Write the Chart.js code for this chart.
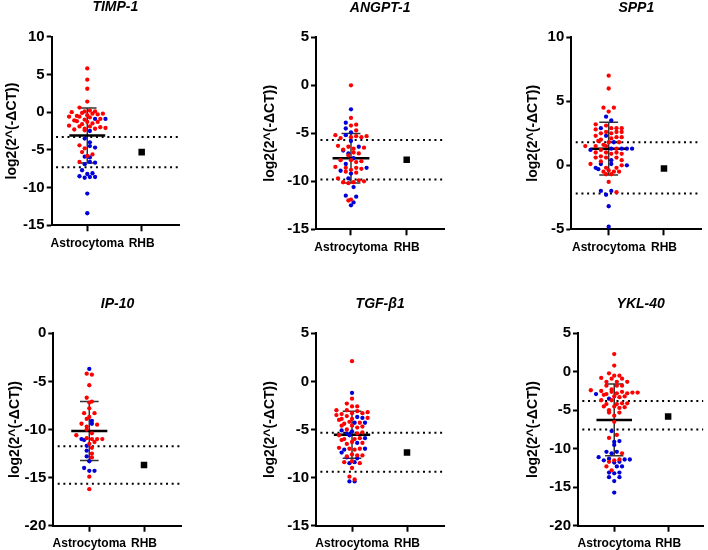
<!DOCTYPE html>
<html><head><meta charset="utf-8">
<script src="https://cdn.jsdelivr.net/npm/chart.js@4/dist/chart.umd.min.js"></script>
<style>
html,body{margin:0;padding:0;background:#fff;}
#wrap{position:relative;width:708px;height:550px;overflow:hidden;background:#fff;}
canvas{position:absolute;}
</style></head><body><div id="wrap"></div>
<script>
// ---------- DATA ----------
const genes = ['TIMP-1', 'ANGPT-1', 'SPP1', 'IP-10', 'TGF-β1', 'YKL-40'];
const categories = ['Astrocytoma', 'RHB'];
const yAxisTitle = 'log2(2^(-ΔCT))';

const timp1Red = [5.8, 4.3, 3.1, 1.4, 0.6, 0.2, 0.1, 0.1, 0.0, -0.1, -0.2, -0.2, -0.3, -0.4, -0.5, -0.6, -0.6, -0.7, -0.9, -1.0, -1.1, -1.2, -1.3, -1.3, -1.5, -1.6, -1.8, -1.9, -1.9, -2.0, -2.1, -2.2, -2.2, -2.3, -2.4, -4.4, -4.8, -5.3, -5.6, -5.8, -6.6];
const timp1Blue = [-0.9, -0.9, -2.5, -3.5, -4.0, -4.5, -4.7, -5.9, -6.0, -6.6, -6.7, -6.9, -7.7, -8.1, -8.2, -8.5, -8.6, -8.6, -8.7, -10.8, -13.4];

const angpt1Red = [0.0, -3.4, -4.1, -4.2, -4.7, -5.2, -5.3, -5.3, -5.4, -5.4, -5.5, -6.3, -6.4, -6.5, -6.6, -6.7, -7.0, -7.1, -7.3, -7.8, -7.8, -7.9, -8.0, -8.5, -8.6, -8.6, -8.7, -8.8, -9.0, -9.1, -9.7, -9.9, -10.0, -10.1, -10.1, -10.2, -11.9, -12.0];
const angpt1Blue = [-2.5, -3.9, -4.5, -4.9, -5.2, -5.8, -6.4, -6.8, -7.1, -7.6, -8.2, -8.6, -8.9, -9.2, -9.7, -10.6, -11.5, -11.6, -12.2, -12.5];

const spp1Red = [7.0, 6.0, 4.5, 4.5, 4.2, 3.2, 3.1, 2.9, 2.9, 2.9, 2.8, 2.6, 2.6, 2.5, 2.6, 2.5, 2.3, 2.2, 2.2, 2.1, 2.0, 1.9, 1.8, 1.8, 1.6, 1.5, 1.5, 1.5, 1.2, 1.3, 1.0, 1.0, 0.9, 0.9, 1.0, 0.6, 0.6, 0.7, 0.6, 0.4, 0.3, 0.0, 0.1, -0.2, -0.2, -0.5, -0.5, -0.4, -0.5, -0.7, -0.7, -1.3, -2.1];
const spp1Blue = [3.8, 3.5, 2.9, 2.3, 1.8, 1.3, 1.3, 1.3, 1.2, 1.3, 0.4, 0.1, 0.0, 0.1, -0.2, -0.3, -2.0, -2.0, -2.3, -3.2, -4.8];

const ip10Red = [-4.2, -4.3, -5.4, -6.7, -7.1, -7.2, -7.8, -8.3, -8.3, -8.7, -8.9, -9.5, -9.4, -9.7, -10.0, -10.4, -11.0, -11.0, -11.0, -10.6, -10.9, -11.3, -11.5, -11.9, -12.5, -12.9, -14.9, -16.2];
const ip10Blue = [-3.7, -9.1, -9.4, -11.0, -11.1, -11.7, -12.2, -12.8, -13.3, -14.0, -14.3, -14.3];

const tgfb1Red = [2.1, -1.8, -2.3, -2.6, -2.6, -3.0, -3.0, -3.1, -3.2, -3.3, -3.3, -3.4, -3.5, -3.6, -3.8, -3.9, -3.9, -4.0, -4.2, -4.3, -4.4, -4.6, -4.6, -4.7, -4.8, -5.0, -5.3, -5.4, -5.6, -5.9, -6.0, -6.0, -6.1, -6.3, -6.4, -6.5, -6.9, -7.0, -7.0, -7.1, -7.6, -7.7, -7.7, -7.8, -8.3, -8.4, -8.5, -9.0, -9.9, -10.2];
const tgfb1Blue = [-1.2, -3.7, -3.8, -4.3, -4.3, -5.1, -5.2, -5.4, -5.6, -5.9, -6.4, -7.0, -7.1, -7.4, -7.9, -8.0, -8.4, -8.5, -10.4, -10.4];

const ykl40Red = [2.3, 0.8, -0.2, -0.5, -0.5, -0.8, -0.9, -0.9, -1.3, -1.3, -1.3, -1.8, -1.8, -1.8, -2.3, -2.4, -2.5, -2.6, -2.6, -2.7, -2.7, -2.8, -2.8, -2.9, -3.0, -3.2, -3.2, -3.3, -3.7, -3.7, -4.1, -4.1, -4.2, -4.2, -4.5, -4.5, -4.6, -4.7, -5.0, -5.3, -5.3, -5.7, -6.5, -8.2, -8.6, -10.6, -11.4, -11.5, -11.7, -12.3, -12.8];
const ykl40Blue = [-2.9, -3.5, -7.7, -9.0, -9.1, -9.5, -10.4, -10.4, -10.6, -11.1, -11.3, -11.4, -11.4, -11.5, -11.7, -11.8, -12.3, -12.3, -13.1, -13.1, -13.2, -13.7, -13.7, -14.2, -15.7];

const redSeries = [timp1Red, angpt1Red, spp1Red, ip10Red, tgfb1Red, ykl40Red];
const blueSeries = [timp1Blue, angpt1Blue, spp1Blue, ip10Blue, tgfb1Blue, ykl40Blue];

const meanValues = [-3.1, -7.6, 1.3, -10.15, -5.55, -6.25];
const sdValues = [3.65, 2.57, 2.06, 3.07, 2.44, 4.67];
const rhbValues = [-5.3, -7.75, -0.25, -13.7, -7.4, -5.8];
const cutoffUpper = [-3.3, -5.7, 1.8, -11.75, -5.35, -3.8];
const cutoffLower = [-7.3, -9.8, -2.2, -15.65, -9.4, -7.5];
const yMinValues = [-15, -15, -5, -20, -15, -20];
const yMaxValues = [10, 5, 10, 0, 5, 5];
const yStep = 5;

// ---------- LAYOUT (styling, not data) ----------
const FONT = '"Liberation Sans", Arial, Helvetica, sans-serif';
Chart.defaults.font.family = FONT;
Chart.defaults.color = '#000';
const W = 236, H = 275;
const panels = [
  {left: 0,   top: 0,   l: 51.7, t: 36.7, r: 179,   b: 225.3, xMin: 0.346, xMax: 2.686, yTitleX: 12.5},
  {left: 236, top: 0,   l: 80,   t: 37.3, r: 208.3, b: 229.3, xMin: 0.372, xMax: 2.675, yTitleX: 33.8},
  {left: 472, top: 0,   l: 99.3, t: 37.3, r: 229.3, b: 229.3, xMin: 0.324, xMax: 2.675, yTitleX: 60.8},
  {left: 0,   top: 275, l: 53.3, t: 58.3, r: 181.7, b: 250.7, xMin: 0.342, xMax: 2.689, yTitleX: 15},
  {left: 236, top: 275, l: 80,   t: 58.3, r: 208.3, b: 250.7, xMin: 0.345, xMax: 2.678, yTitleX: 33.8},
  {left: 472, top: 275, l: 106,  t: 58.3, r: 233,   b: 250.7, xMin: 0.328, xMax: 2.654, yTitleX: 60.8}
];
const RED = 'rgb(255,0,0)', BLUE = 'rgb(0,0,215)';
const PT_R = 2.15, ROW_H = 3.9, COL_W = 5.2;

const panelTitle = {
  id: 'panelTitle',
  afterDraw(chart, args, opts) {
    const {ctx, chartArea} = chart;
    ctx.save();
    ctx.font = 'italic bold 14px ' + FONT;
    ctx.fillStyle = '#000';
    ctx.textAlign = 'center';
    ctx.textBaseline = 'middle';
    ctx.fillText(opts.text, (chartArea.left + chartArea.right) / 2, chartArea.top - opts.offset);
    ctx.restore();
  }
};

// Row-based scatter layout (column scatter plot): points whose pixel
// heights fall in the same row are spread side by side around the category.
function swarm(vals, colors, chart) {
  const ys = chart.scales.y, xs = chart.scales.x;
  const pxPerX = xs.getPixelForValue(2) - xs.getPixelForValue(1);
  const items = vals.map((v, i) => ({v, c: colors[i], py: ys.getPixelForValue(v), px: 0}));
  const order = items.slice().sort((a, b) => a.py - b.py);
  let row = [];
  const flush = () => {
    const n = row.length;
    const mixed = [];
    let lo = 0, hi = n - 1, t = 0;
    while (lo <= hi) { mixed.push(t++ % 2 ? row[hi--] : row[lo++]); }
    mixed.forEach((it, k) => { it.px = (k - (n - 1) / 2) * COL_W; });
    row = [];
  };
  order.forEach(it => {
    if (row.length && it.py - row[0].py >= ROW_H) flush();
    row.push(it);
  });
  flush();
  items.forEach(it => { it.x = 1 + it.px / pxPerX; });
  return items;
}

const wrap = document.getElementById('wrap');
panels.forEach((p, i) => {
  const cv = document.createElement('canvas');
  cv.width = W; cv.height = H;
  cv.style.left = p.left + 'px'; cv.style.top = p.top + 'px';
  cv.style.width = W + 'px'; cv.style.height = H + 'px';
  wrap.appendChild(cv);
  const mean = meanValues[i], sd = sdValues[i];
  const line = (data, color, width, order, dash) => ({
    data, showLine: true, borderColor: color, borderWidth: width, pointRadius: 0,
    borderDash: dash || [], order, borderCapStyle: 'butt', fill: false
  });
  const chart = new Chart(cv, {
    type: 'scatter',
    data: {
      datasets: [
        {data: redSeries[i].map(v => ({x: 1, y: v})), pointRadius: PT_R, pointBackgroundColor: RED, pointBorderWidth: 0, borderColor: RED, order: 0},
        {data: blueSeries[i].map(v => ({x: 1, y: v})), pointRadius: PT_R, pointBackgroundColor: BLUE, pointBorderWidth: 0, borderColor: BLUE, order: 0},
        {data: [{x: 2, y: rhbValues[i]}], pointStyle: 'rect', pointRadius: 4.6, pointBackgroundColor: '#000', pointBorderWidth: 0, order: 0},
        line([{x: 1 - 0.33, y: mean}, {x: 1 + 0.33, y: mean}], '#000', 2.5, 1),
        line([{x: 1, y: mean + sd}, {x: 1, y: mean - sd}], '#333', 1.5, 1),
        line([{x: 1 - 0.17, y: mean + sd}, {x: 1 + 0.17, y: mean + sd}], '#333', 1.5, 1),
        line([{x: 1 - 0.17, y: mean - sd}, {x: 1 + 0.17, y: mean - sd}], '#333', 1.5, 1),
        line([{x: p.xMin + 0.08, y: cutoffUpper[i]}, {x: p.xMax, y: cutoffUpper[i]}], '#000', 2, 2, [2, 3.7]),
        line([{x: p.xMin + 0.08, y: cutoffLower[i]}, {x: p.xMax, y: cutoffLower[i]}], '#000', 2, 2, [2, 3.7])
      ]
    },
    options: {
      responsive: false, animation: false, devicePixelRatio: 1,
      layout: {padding: {left: 0, top: p.t, right: W - p.r, bottom: 0}},
      plugins: {legend: {display: false}, tooltip: {enabled: false}, panelTitle: {text: genes[i], offset: 29.5}},
      scales: {
        x: {
          type: 'linear', min: p.xMin, max: p.xMax,
          afterBuildTicks: s => { s.ticks = [{value: 1}, {value: 2}]; },
          afterFit: s => { s.height = H - p.b; },
          ticks: {callback: (v, idx) => categories[idx], font: {size: 12, weight: 'bold'}, color: '#000', padding: 5, maxRotation: 0, autoSkip: false},
          grid: {drawOnChartArea: false, drawTicks: true, tickLength: 6, tickWidth: 2, tickColor: '#000'},
          border: {display: true, color: '#000', width: 2}
        },
        y: {
          min: yMinValues[i], max: yMaxValues[i],
          afterFit: s => { s.width = p.l; },
          ticks: {stepSize: yStep, font: {size: 15, weight: 'bold'}, color: '#000', padding: 2},
          grid: {drawOnChartArea: false, drawTicks: true, tickLength: 5, tickWidth: 2, tickColor: '#000'},
          border: {display: true, color: '#000', width: 2},
          title: {display: true, text: yAxisTitle, font: {size: 14, weight: 'bold'}, color: '#000', padding: {top: p.yTitleX - 8.4, bottom: 0}}
        }
      }
    },
    plugins: [panelTitle]
  });
  const vals = redSeries[i].concat(blueSeries[i]);
  const cols = redSeries[i].map(() => 'r').concat(blueSeries[i].map(() => 'b'));
  const sw = swarm(vals, cols, chart);
  chart.data.datasets[0].data = sw.filter(s => s.c === 'r').map(s => ({x: s.x, y: s.v}));
  chart.data.datasets[1].data = sw.filter(s => s.c === 'b').map(s => ({x: s.x, y: s.v}));
  chart.update('none');
});
</script></body></html>
